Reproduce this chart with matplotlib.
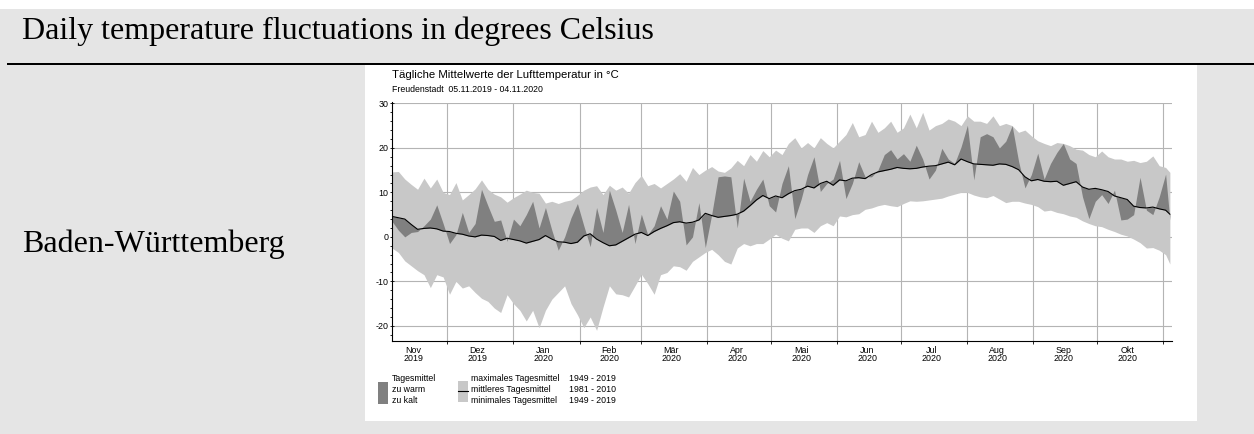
import numpy as np
import matplotlib
matplotlib.use("Agg")
import matplotlib.pyplot as plt
import matplotlib.dates as mdates
from matplotlib.patches import Rectangle
from matplotlib.lines import Line2D
from matplotlib.ticker import MultipleLocator, NullFormatter, FuncFormatter

plt.rcParams["axes.unicode_minus"] = False

# Data (day offsets from 05.11.2019, every 3 days)
start = np.datetime64("2019-11-05")
days = list(range(0, 364, 3)) + [365]

mean_1981_2010 = [
    4.6, 4.3, 4.0, 2.8, 1.7, 1.9, 2.0, 1.8, 1.3, 1.2,
    0.8, 0.6, 0.2, 0.0, 0.4, 0.3, 0.1, -0.8, -0.3, -0.6,
    -0.9, -1.4, -1.0, -0.6, 0.3, -0.5, -1.1, -1.2, -1.5, -1.2,
    0.2, 0.7, -0.5, -1.3, -2.0, -1.8, -1.0, -0.2, 0.6, 1.0,
    0.3, 1.2, 1.9, 2.5, 3.2, 3.4, 3.1, 3.3, 3.8, 5.3,
    4.8, 4.4, 4.6, 4.8, 5.1, 5.8, 7.0, 8.3, 9.3, 8.6,
    9.2, 8.8, 9.7, 10.4, 10.7, 11.4, 11.0, 12.0, 12.5, 11.6,
    12.8, 12.6, 13.2, 13.3, 13.1, 14.0, 14.6, 14.9, 15.2, 15.6,
    15.4, 15.3, 15.4, 15.7, 15.9, 16.0, 16.4, 16.8, 16.2, 17.5,
    16.9, 16.4, 16.3, 16.2, 16.1, 16.4, 16.3, 15.8, 15.1, 13.5,
    12.6, 12.9, 12.5, 12.4, 12.5, 11.6, 12.0, 12.4, 11.2, 10.7,
    10.9, 10.6, 10.2, 9.2, 8.8, 8.4, 6.9, 6.6, 6.5, 6.7,
    6.3, 6.0, 5.1,
]

tagesmittel = [
    3.5, 1.5, 0.0, 1.0, 1.2, 2.5, 4.0, 7.2, 3.0, -1.5,
    0.5, 5.5, 1.0, 3.0, 10.7, 7.0, 3.5, 3.8, -1.0, 4.0,
    2.5, 5.0, 8.0, 2.0, 6.6, 1.5, -3.0, 0.0, 4.3, 7.5,
    2.5, -2.2, 6.6, 1.0, 10.5, 6.0, 1.0, 7.3, -1.5, 5.1,
    0.5, 2.5, 7.0, 4.0, 10.3, 8.0, -1.8, 0.0, 7.7, -2.4,
    5.0, 13.5, 13.7, 13.5, 2.0, 13.2, 8.0, 10.7, 13.0, 7.0,
    5.6, 12.0, 16.0, 4.1, 8.5, 14.0, 18.0, 10.2, 12.0, 13.0,
    17.2, 8.6, 12.0, 16.9, 13.5, 13.5, 15.0, 18.5, 19.6, 17.5,
    18.7, 17.0, 20.6, 17.5, 13.0, 15.0, 19.9, 17.5, 16.5, 20.2,
    25.1, 12.8, 22.5, 23.2, 22.5, 20.0, 21.5, 25.0, 17.0, 11.0,
    14.0, 18.8, 13.0, 16.5, 19.0, 21.0, 17.5, 16.5, 9.0, 4.1,
    8.0, 9.5, 7.5, 10.5, 3.8, 4.0, 5.0, 13.4, 6.0, 5.0,
    9.0, 14.1, 3.8,
]

max_1949_2019 = [
    14.6, 14.7, 13.0, 11.8, 10.7, 13.2, 11.0, 13.0, 10.0, 9.5,
    12.2, 8.3, 9.5, 10.8, 12.8, 10.7, 9.6, 9.0, 7.8, 8.8,
    9.6, 10.5, 10.0, 9.8, 7.6, 8.0, 7.5, 8.0, 8.3, 9.3,
    10.5, 11.2, 11.5, 9.5, 11.6, 10.5, 11.2, 9.8, 12.2, 13.8,
    11.5, 12.0, 11.0, 12.0, 13.0, 14.2, 12.5, 15.6, 14.0, 15.0,
    15.8, 14.8, 14.5, 15.5, 17.2, 16.0, 18.5, 17.0, 19.4, 18.0,
    19.5, 18.5, 21.0, 22.3, 20.0, 21.2, 20.0, 22.3, 21.0, 20.0,
    21.5, 23.0, 25.7, 22.5, 23.0, 26.0, 23.5, 24.5, 26.0, 23.5,
    24.5, 27.6, 24.5, 28.0, 24.0, 25.0, 25.5, 26.5, 26.0, 25.0,
    27.2, 26.0, 26.0, 25.5, 27.2, 25.0, 25.5, 25.0, 23.5, 24.0,
    22.7, 21.6, 21.0, 20.5, 21.2, 21.0, 20.5, 19.7, 19.5, 18.5,
    18.0, 19.3, 18.0, 17.5, 17.5, 17.0, 17.2, 16.7, 17.0, 18.2,
    16.0, 15.6, 14.5,
]

min_1949_2019 = [
    -2.5, -3.5, -5.4, -6.5, -7.6, -8.5, -11.4, -8.5, -9.0, -12.9,
    -10.0, -11.5, -11.0, -12.5, -13.8, -14.5, -16.0, -17.0, -13.0, -15.0,
    -16.5, -18.9, -16.5, -20.4, -16.5, -14.0, -12.5, -11.0, -15.0, -17.5,
    -20.4, -18.0, -21.0, -15.8, -11.0, -12.8, -13.0, -13.5, -11.0, -8.4,
    -10.5, -12.9, -8.5, -8.0, -6.5, -6.7, -7.5, -5.5, -4.5, -3.5,
    -2.8, -4.0, -5.5, -6.1, -2.5, -1.5, -2.0, -1.5, -1.5, -0.5,
    0.6, -0.3, -0.9, 1.7, 2.0, 2.0, 1.0, 2.5, 3.2, 2.5,
    4.7, 4.5, 5.0, 5.2, 6.2, 6.5, 7.0, 7.3, 7.0, 6.8,
    7.5, 8.1, 8.0, 8.1, 8.3, 8.5, 8.7, 9.2, 9.6, 10.0,
    10.0, 9.4, 9.0, 8.8, 9.3, 8.5, 7.7, 8.0, 8.0, 7.6,
    7.3, 6.8, 5.8, 6.0, 5.5, 5.2, 4.7, 4.4, 3.6, 3.0,
    2.5, 2.3, 1.7, 1.2, 0.6, 0.2, -0.5, -1.3, -2.5, -2.4,
    -3.0, -4.0, -6.1,
]

months_de = ["Jan", "Feb", "Mär", "Apr", "Mai", "Jun",
             "Jul", "Aug", "Sep", "Okt", "Nov", "Dez"]

legend_left = ["Tagesmittel", "zu warm", "zu kalt"]
legend_right = ["maximales Tagesmittel", "mittleres Tagesmittel", "minimales Tagesmittel"]
legend_years = ["1949 - 2019", "1981 - 2010", "1949 - 2019"]

x = start + np.array(days, dtype="timedelta64[D]")

# Figure in pixel units
W, H = 1254, 434
fig = plt.figure(figsize=(W / 100, H / 100), dpi=100)
fig.patch.set_facecolor("white")


def fx(px):
    return px / W


def fy(py):
    return 1 - py / H


def rect(x0, y0, x1, y1, color):
    fig.add_artist(Rectangle((fx(x0), fy(y1)), (x1 - x0) / W, (y1 - y0) / H,
                             transform=fig.transFigure, facecolor=color,
                             edgecolor="none", zorder=0))


grey_bg = "#e5e5e5"
rect(0, 9, W, 64, grey_bg)
rect(0, 64, W, H, grey_bg)
rect(7, 63, W, 65, "black")
rect(365, 65, 1197, 421, "white")

serif = "Liberation Serif"
sans = "Liberation Sans"
fig.text(fx(22), fy(38.8), "Daily temperature fluctuations in degrees Celsius",
         family=serif, fontsize=23, va="baseline", ha="left")
fig.text(fx(22), fy(252), "Baden-Württemberg",
         family=serif, fontsize=23, va="baseline", ha="left")

fig.text(fx(392), fy(77.5), "Tägliche Mittelwerte der Lufttemperatur in °C",
         family=sans, fontsize=8.2, va="baseline", ha="left")
fig.text(fx(392), fy(92), "Freudenstadt  05.11.2019 - 04.11.2020",
         family=sans, fontsize=6.3, va="baseline", ha="left")

# Main axes
ax = fig.add_axes([fx(392), fy(341), (1172 - 392) / W, (341 - 102.5) / H])
ax.set_facecolor("white")

band = "#c8c8c8"
dark = "#808080"
ax.fill_between(x, min_1949_2019, max_1949_2019, color=band, lw=0, zorder=1)
ax.fill_between(x, tagesmittel, mean_1981_2010, color=dark, lw=0, zorder=2)
ax.plot(x, mean_1981_2010, color="black", lw=0.8, zorder=3)

ax.set_xlim(np.datetime64("2019-11-05"), np.datetime64("2020-11-05"))
ax.set_ylim(-23.4, 30.2)

ax.yaxis.set_major_locator(MultipleLocator(10))
ax.yaxis.set_minor_locator(MultipleLocator(2))
ax.xaxis.set_major_locator(mdates.MonthLocator(bymonthday=1))
ax.xaxis.set_minor_locator(mdates.MonthLocator(bymonthday=15))
ax.xaxis.set_major_formatter(NullFormatter())


def month_label(v, pos):
    d = mdates.num2date(v)
    return f"{months_de[d.month - 1]}\n{d.year}"


ax.xaxis.set_minor_formatter(FuncFormatter(month_label))

ax.grid(which="major", color="#b4b4b4", lw=0.8, zorder=0)
ax.set_axisbelow(True)

for s in ("top", "right"):
    ax.spines[s].set_visible(False)
for s in ("left", "bottom"):
    ax.spines[s].set_linewidth(0.8)
    ax.spines[s].set_color("black")

ax.tick_params(axis="y", which="major", direction="inout", length=3.5, width=0.6,
               labelsize=6.4, pad=0.8)
ax.tick_params(axis="y", which="minor", direction="out", length=1.6, width=0.6)
ax.tick_params(axis="x", which="major", direction="out", length=2, width=0.6)
ax.tick_params(axis="x", which="minor", length=0, labelsize=6.4, pad=3.6)
for lab in ax.get_yticklabels():
    lab.set_family(sans)
for lab in ax.xaxis.get_minorticklabels():
    lab.set_family(sans)
    lab.set_linespacing(0.9)

# Legend (drawn in figure pixels)
rect(378.3, 381.7, 387.7, 404, dark)
rect(458.3, 380.7, 468.3, 401.7, band)
fig.add_artist(Line2D([fx(458.3), fx(468.3)], [fy(390.5), fy(390.5)],
                      transform=fig.transFigure, color="black", lw=0.8))
rows_y = [380.7, 392.3, 403.3]
for i, yy in enumerate(rows_y):
    fig.text(fx(392), fy(yy), legend_left[i], family=sans, fontsize=6.3, va="baseline")
    fig.text(fx(471), fy(yy), legend_right[i], family=sans, fontsize=6.3, va="baseline")
    fig.text(fx(569.3), fy(yy), legend_years[i], family=sans, fontsize=6.3, va="baseline")

fig.savefig("out.png", dpi=100)
